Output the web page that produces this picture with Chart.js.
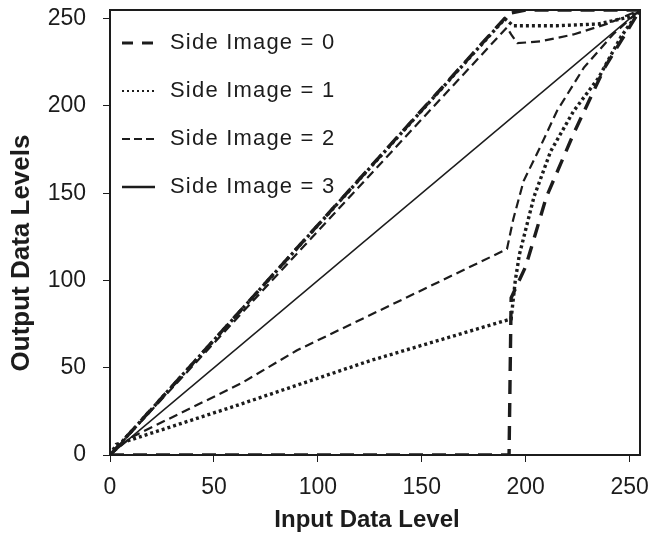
<!DOCTYPE html>
<html>
<head>
<meta charset="utf-8">
<script src="https://cdn.jsdelivr.net/npm/chart.js@4/dist/chart.umd.min.js"></script>
<style>
  html, body { margin: 0; padding: 0; background: #fff; }
  #wrap { width: 654px; height: 542px; position: relative; }
</style>
</head>
<body>
<div id="wrap"><canvas id="levels"></canvas></div>
<script>
// tick labels
var xTicks = [0, 50, 100, 150, 200, 250];
var yTicks = [0, 50, 100, 150, 200, 250];

var xTitle = 'Input Data Level';
var yTitle = 'Output Data Levels';
var legendLabels = ['Side Image = 0', 'Side Image = 1', 'Side Image = 2', 'Side Image = 3'];

// upper branches
var upX0 = [0, 192, 200, 230, 255];
var upY0 = [0, 253, 255, 255, 255];
var upX1 = [0, 190, 194, 215, 235, 250, 255];
var upY1 = [0, 250, 246, 246, 247, 251, 255];
var upX2 = [0, 191, 193, 196, 207, 223, 239, 255];
var upY2 = [0, 245, 241, 236, 237, 241, 247, 255];
var upX3 = [0, 255];
var upY3 = [0, 255];

// lower branches
var loX0 = [0, 192, 193, 200, 210, 223, 238, 255];
var loY0 = [0, 0, 90, 108, 148, 184, 222, 255];
var loX1 = [0, 3, 60, 125, 193, 195, 197, 204, 212, 223, 235, 246, 255];
var loY1 = [0, 6, 28, 54, 78, 100, 115, 148, 174, 197, 216, 240, 255];
var loX2 = [0, 10, 63, 90, 191, 194, 199, 206, 215, 228, 242, 255];
var loY2 = [0, 10, 41, 60, 118, 135, 157, 174, 197, 222, 241, 255];

var ink = '#1c1c1c';
var fontFam = '"Liberation Sans", Arial, sans-serif';
var styles = [
    { dash: [14, 9], width: 3.4, key: [11, 9], keyWidth: 3 },
    { dash: [3, 3], width: 3.4, key: [2, 3], keyWidth: 2 },
    { dash: [9, 5], width: 2.2, key: [8, 4], keyWidth: 2 },
    { dash: [], width: 1.6, key: [], keyWidth: 2.5 }
];

function pts(xs, ys) {
    return xs.map(function (x, i) { return { x: x, y: ys[i] }; });
}

function makeSet(label, xs, ys, s) {
    return {
        label: label,
        data: pts(xs, ys),
        borderColor: ink,
        borderWidth: s.width,
        borderDash: s.dash,
        pointRadius: 0,
        fill: false,
        tension: 0
    };
}

var datasets = [
    makeSet(legendLabels[0], upX0, upY0, styles[0]),
    makeSet(legendLabels[1], upX1, upY1, styles[1]),
    makeSet(legendLabels[2], upX2, upY2, styles[2]),
    makeSet(legendLabels[3], upX3, upY3, styles[3]),
    makeSet('', loX0, loY0, styles[0]),
    makeSet('', loX1, loY1, styles[1]),
    makeSet('', loX2, loY2, styles[2])
];

// frame, axis titles and legend
var frameLegend = {
    id: 'frameLegend',
    afterDraw: function (chart) {
        var c = chart.ctx, a = chart.chartArea;
        c.save();
        c.strokeStyle = ink;
        c.lineWidth = 2;
        c.setLineDash([]);
        c.strokeRect(a.left, a.top, a.right - a.left, a.bottom - a.top);

        c.fillStyle = ink;
        c.textAlign = 'center';
        c.textBaseline = 'middle';
        c.font = 'bold 24px ' + fontFam;
        c.fillText(xTitle, 367, 520);
        c.save();
        c.translate(22, 253);
        c.rotate(-Math.PI / 2);
        c.font = 'bold 26px ' + fontFam;
        c.fillText(yTitle, 0, 0);
        c.restore();

        c.textAlign = 'left';
        c.font = '22px ' + fontFam;
        if ('letterSpacing' in c) c.letterSpacing = '1.2px';
        for (var i = 0; i < legendLabels.length; i++) {
            var y = a.top + 33 + i * 48;
            c.beginPath();
            c.lineWidth = styles[i].keyWidth;
            c.setLineDash(styles[i].key);
            c.moveTo(a.left + 12, y);
            c.lineTo(a.left + 45, y);
            c.stroke();
            c.setLineDash([]);
            c.fillText(legendLabels[i], a.left + 60, y);
        }
        c.restore();
    }
};

new Chart(document.getElementById('levels'), {
    type: 'line',
    data: { datasets: datasets },
    options: {
        responsive: true,
        maintainAspectRatio: false,
        animation: false,
        layout: { padding: { top: 10, right: 14, left: 0, bottom: 0 } },
        plugins: {
            legend: { display: false },
            tooltip: { enabled: false }
        },
        scales: {
            x: {
                type: 'linear',
                min: 0,
                max: 255,
                afterBuildTicks: function (scale) {
                    scale.ticks = xTicks.map(function (v) { return { value: v }; });
                },
                afterFit: function (scale) {
                    scale.height = 87;
                    scale.paddingLeft = 0;
                    scale.paddingRight = 0;
                },
                grid: { display: true, drawOnChartArea: false, tickLength: 7, color: ink, lineWidth: 1 },
                border: { display: false },
                ticks: {
                    color: ink,
                    padding: 12,
                    maxRotation: 0,
                    font: { family: fontFam, size: 23 }
                },
                title: { display: false }
            },
            y: {
                type: 'linear',
                min: 0,
                max: 255,
                afterBuildTicks: function (scale) {
                    scale.ticks = yTicks.map(function (v) { return { value: v }; });
                },
                afterFit: function (scale) {
                    scale.width = 110;
                    scale.paddingTop = 0;
                    scale.paddingBottom = 0;
                },
                grid: { display: true, drawOnChartArea: false, tickLength: 7, color: ink, lineWidth: 1 },
                border: { display: false },
                ticks: {
                    color: ink,
                    padding: 17,
                    font: { family: fontFam, size: 23 }
                },
                title: { display: false }
            }
        }
    },
    plugins: [frameLegend]
});
</script>
</body>
</html>
